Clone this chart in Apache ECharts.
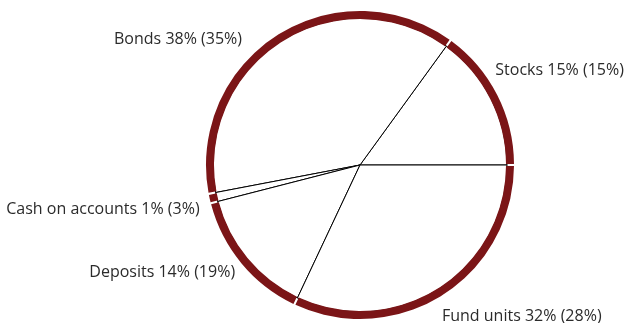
<!DOCTYPE html>
<html>
  <head>
    <meta charset="utf-8" />
    <title>Portfolio</title>
    <script src="https://cdn.jsdelivr.net/npm/echarts@6.0.0/dist/echarts.min.js"></script>
    <style>
      html, body { margin: 0; padding: 0; background: #fff; }
    </style>
  </head>
  <body>
    <div id="main" style="width: 626px;height:323px;"></div>
    <script type="text/javascript">
      // slices go counterclockwise from 3 o'clock
      var categories = ['Stocks', 'Bonds', 'Cash on accounts', 'Deposits', 'Fund units'];
      var shares = [15, 38, 1, 14, 32];
      var previous = [15, 35, 3, 19, 28];

      // small nudges of the outside labels, [dx, dy]
      var labelNudge = [[-6, -25], [-31, 4], [-6, 11], [-2, 10], [-5, 22]];

      var chartDom = document.getElementById('main');
      var myChart = echarts.init(chartDom);

      var pieData = categories.map(function (name, i) {
        return { name: name, value: shares[i], prev: previous[i] };
      });

      var option = {
        animation: false,
        textStyle: { fontFamily: 'Open Sans' },
        series: [
          {
            // white slices with thin black dividers
            type: 'pie',
            center: [360, 165],
            radius: [0, 147],
            startAngle: 0,
            clockwise: false,
            silent: true,
            itemStyle: { color: '#fff', borderColor: '#000', borderWidth: 1 },
            label: {
              show: true,
              position: 'outside',
              color: '#2b2b2b',
              fontSize: 16,
              fontFamily: 'Open Sans',
              overflow: 'none',
              formatter: function (p) {
                return p.name + ' ' + p.value + '% (' + p.data.prev + '%)';
              }
            },
            labelLine: { show: false, length: 6, length2: 0 },
            labelLayout: function (params) {
              var n = labelNudge[params.dataIndex];
              return { dx: n[0], dy: n[1] };
            },
            data: pieData
          },
          {
            // dark red outer ring
            type: 'pie',
            center: [360, 165],
            radius: [146, 154],
            startAngle: 0,
            clockwise: false,
            padAngle: 0.8,
            silent: true,
            itemStyle: { color: '#7b1517' },
            label: { show: false },
            labelLine: { show: false },
            data: pieData
          }
        ]
      };

      myChart.setOption(option);
    </script>
  </body>
</html>
